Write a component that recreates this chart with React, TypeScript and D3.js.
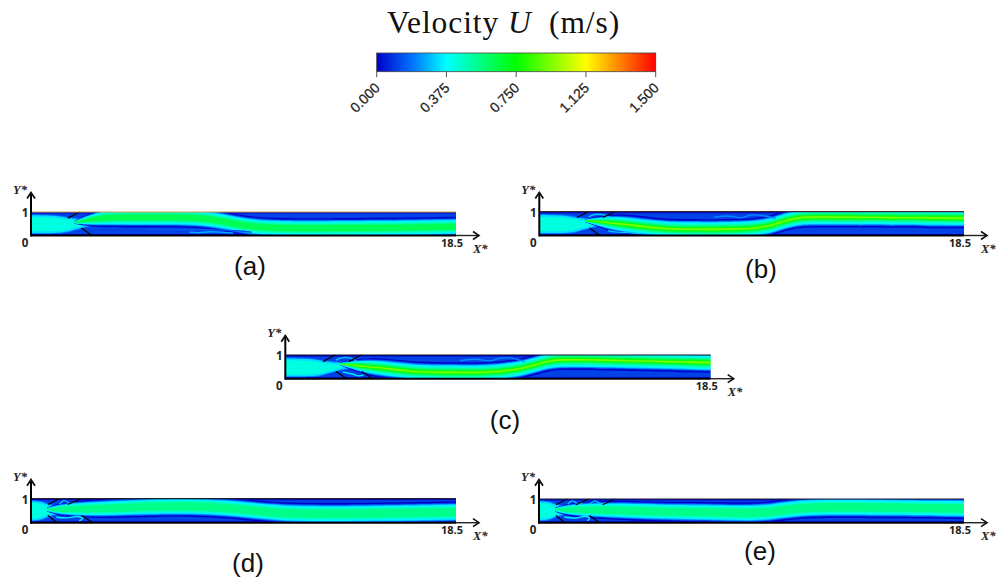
import React from "react";
import * as d3 from "d3";

// colour bar
const barTicks = [0, 0.375, 0.75, 1.125, 1.5];
const barTickLabels = ["0.000", "0.375", "0.750", "1.125", "1.500"];
const jetStops = [0, 0.1875, 0.375, 0.75, 1.125, 1.5];
const jetColors = ["#0000c8", "#0070ff", "#00ffff", "#00ff00", "#ffff00", "#ff0000"];

// velocity levels across the jet (velocity, half width in Y*)
const levelVelocity = [0.01, 0.09, 0.17, 0.27, 0.36, 0.46, 0.55, 0.63, 0.7, 0.8, 0.92];
const levelHalfWidth = [0.43, 0.37, 0.345, 0.32, 0.29, 0.225, 0.17, 0.13, 0.095, 0.065, 0.035];
// core velocity of each case
const coreA = 0.68, coreB = 0.95, coreC = 0.95, coreD = 0.56, coreE = 0.56;

// jet centre lines
const jetXa = [1.9, 2.4, 3, 4, 6, 7.5, 8.5, 9.5, 10.5, 12, 15, 18.5];
const jetYa = [0.56, 0.64, 0.74, 0.77, 0.77, 0.75, 0.58, 0.38, 0.32, 0.3, 0.32, 0.37];
const jetWa = [0.15, 0.55, 0.9, 1, 1, 1, 1, 1, 1.0, 1.0, 1.0, 1.0];

const jetXb = [2, 2.6, 3.2, 4, 5, 6, 9, 10, 10.5, 11.3, 12, 18.5];
const jetYb = [0.62, 0.58, 0.52, 0.44, 0.32, 0.25, 0.26, 0.38, 0.56, 0.76, 0.78, 0.73];
const jetWb = [0.15, 0.55, 0.9, 1, 1, 1, 1, 1, 1, 1, 1, 1];

const jetXc = [2.4, 3, 3.6, 4.5, 5.5, 6.5, 9.3, 10.6, 11.5, 12.2, 13, 18.5];
const jetYc = [0.62, 0.57, 0.5, 0.42, 0.3, 0.26, 0.25, 0.5, 0.78, 0.8, 0.8, 0.68];
const jetWc = [0.15, 0.55, 0.9, 1, 1, 1, 1, 1, 1, 1, 1, 1];

const jetXd = [0.7, 1.4, 3, 5.2, 7, 8.5, 9.5, 11, 13, 15, 18.5];
const jetYd = [0.55, 0.56, 0.58, 0.67, 0.69, 0.62, 0.53, 0.38, 0.37, 0.39, 0.44];
const jetWd = [0.2, 0.75, 0.95, 1, 1.02, 1.02, 1.02, 1.05, 1.05, 1.05, 1.05];

const jetXe = [0.7, 1.4, 3, 5.3, 7, 9.2, 10.2, 11.3, 13, 15, 18.5];
const jetYe = [0.55, 0.55, 0.54, 0.46, 0.45, 0.39, 0.46, 0.63, 0.66, 0.64, 0.6];
const jetWe = [0.2, 0.75, 0.95, 1, 1.02, 1.05, 1.05, 1.05, 1.05, 1.05, 1.05];

// inlet blocks
const inletXwide = [0, 1.2, 1.6, 2.2, 2.8, 3.2];
const inletTopWide = [0.9, 0.88, 0.78, 0.72, 0.68, 0.62];
const inletBotWide = [0.06, 0.06, 0.12, 0.3, 0.42, 0.5];
const inletXshort = [0, 0.45, 0.75, 1.15, 1.6];
const inletTopShort = [0.94, 0.92, 0.78, 0.72, 0.68];
const inletBotShort = [0.06, 0.08, 0.24, 0.34, 0.42];
const inletVelocity = [0.2, 0.33, 0.42];
const inletInset = [0, 0.04, 0.12];

// baffles [X1, Y1, X2, Y2]
const bafflesA = [[1.6, 0.74, 2.13, 1], [2.2, 0.32, 2.65, 0]];
const bafflesB = [[1.64, 0.76, 2.13, 1], [2.77, 0.76, 3.29, 1], [2.2, 0.3, 2.64, 0]];
const bafflesC = [[1.64, 0.72, 2.16, 1], [2.77, 0.72, 3.29, 1], [2.2, 0.3, 2.68, 0], [3.33, 0.3, 3.81, 0]];
const bafflesD = [[0.74, 0.76, 1.22, 1], [1.6, 0.76, 2.17, 1], [0.74, 0.3, 1.13, 0], [2.2, 0.3, 2.7, 0]];
const bafflesE = [[0.74, 0.76, 1.22, 1], [1.6, 0.76, 2.17, 1], [2.77, 0.76, 3.29, 1], [0.74, 0.3, 1.13, 0], [2.2, 0.3, 2.64, 0]];

// thin vortex streaks: X* list, Y* list, velocity
const wispsA = [
  { x: [6.9, 7.3, 7.8, 8.3, 8.8], y: [0.14, 0.12, 0.16, 0.14, 0.1], v: 0.26 },
  { x: [5, 6.5, 8, 9, 9.6], y: [0.26, 0.24, 0.24, 0.2, 0.14], v: 0.14 },
];
const wispsB = [
  { x: [7.6, 8.2, 8.8, 9.2, 9.7, 10.3], y: [0.76, 0.82, 0.75, 0.86, 0.84, 0.72], v: 0.22 },
  { x: [3, 3.4, 3.9, 4.4], y: [0.2, 0.14, 0.12, 0.08], v: 0.3 },
  { x: [2.15, 2.4, 2.75, 3.1], y: [0.78, 0.88, 0.88, 0.76], v: 0.3 },
];
const wispsC = [
  { x: [7.6, 8.3, 8.9, 9.4, 9.9, 10.4], y: [0.76, 0.82, 0.75, 0.88, 0.86, 0.72], v: 0.22 },
  { x: [2.5, 2.9, 3.2, 3.4], y: [0.28, 0.2, 0.12, 0.16], v: 0.36 },
  { x: [2.2, 2.45, 2.8, 3.1], y: [0.78, 0.88, 0.88, 0.74], v: 0.3 },
];
const wispsD = [
  { x: [1.25, 1.45, 1.7, 1.9], y: [0.78, 0.92, 0.8, 0.85], v: 0.3 },
  { x: [1.1, 1.6, 2, 2.25, 2.1], y: [0.24, 0.2, 0.26, 0.18, 0.08], v: 0.36 },
];
const wispsE = [
  { x: [1.25, 1.45, 1.7, 1.9], y: [0.78, 0.92, 0.8, 0.85], v: 0.3 },
  { x: [2.2, 2.45, 2.7, 2.95], y: [0.78, 0.92, 0.8, 0.85], v: 0.3 },
  { x: [1.1, 1.6, 2, 2.2, 2.1], y: [0.24, 0.2, 0.26, 0.18, 0.08], v: 0.36 },
];

const panelNames = ["a", "b", "c", "d", "e"];
const panelLabels = ["(a)", "(b)", "(c)", "(d)", "(e)"];
const maxX = 18.5;

const layout = [
  { x0: 31, x1: 456, top: 212, bottom: 235.5, lx: 250, ly: 275, edge: "#c9a63a" },
  { x0: 539.3, x1: 964, top: 211.7, bottom: 235.5, lx: 761, ly: 278, edge: "#3a2a2a" },
  { x0: 285.3, x1: 710.7, top: 355, bottom: 378.7, lx: 505, ly: 429, edge: "#101020" },
  { x0: 31, x1: 456, top: 498.7, bottom: 522.7, lx: 248, ly: 572, edge: "#202030" },
  { x0: 539, x1: 964, top: 499, bottom: 522.7, lx: 760, ly: 560, edge: "#202030" },
];

const panelData = [
  { X: jetXa, Y: jetYa, W: jetWa, core: coreA, iX: inletXwide, iT: inletTopWide, iB: inletBotWide, baffles: bafflesA, wisps: wispsA },
  { X: jetXb, Y: jetYb, W: jetWb, core: coreB, iX: inletXwide, iT: inletTopWide, iB: inletBotWide, baffles: bafflesB, wisps: wispsB },
  { X: jetXc, Y: jetYc, W: jetWc, core: coreC, iX: inletXwide, iT: inletTopWide, iB: inletBotWide, baffles: bafflesC, wisps: wispsC },
  { X: jetXd, Y: jetYd, W: jetWd, core: coreD, iX: inletXshort, iT: inletTopShort, iB: inletBotShort, baffles: bafflesD, wisps: wispsD },
  { X: jetXe, Y: jetYe, W: jetWe, core: coreE, iX: inletXshort, iT: inletTopShort, iB: inletBotShort, baffles: bafflesE, wisps: wispsE },
];

const jet = d3.scaleLinear<string>().domain(jetStops).range(jetColors).interpolate(d3.interpolateRgb);

function Panel({ i }: { i: number }) {
  const L = layout[i];
  const D = panelData[i];
  const x = d3.scaleLinear().domain([0, maxX]).range([L.x0, L.x1]);
  const y = d3.scaleLinear().domain([0, 1]).range([L.bottom, L.top]);
  const idx = D.X.map((_, k) => k);
  const curve = d3.curveBasis;
  const band = (hw: number) =>
    d3.area<number>().curve(curve).x((k) => x(D.X[k])).y0((k) => y(D.Y[k] - hw * D.W[k])).y1((k) => y(D.Y[k] + hw * D.W[k]))(idx) as string;
  const inletIdx = D.iX.map((_, k) => k);
  const inlet = (inset: number) =>
    d3.area<number>().curve(curve).x((k) => x(D.iX[k])).y0((k) => y(D.iB[k] + inset)).y1((k) => y(D.iT[k] - inset))(inletIdx) as string;
  const wisp = (w: { x: number[]; y: number[] }) =>
    d3.line<number>().curve(d3.curveCatmullRom).x((k) => x(w.x[k])).y((k) => y(w.y[k]))(w.x.map((_, k) => k)) as string;
  const ax0 = x(0);
  const ay0 = y(0);
  const tipX = L.x1 + 23;
  const tipY = ay0 - 43;
  return (
    <g>
      <clipPath id={`clip-${panelNames[i]}`}>
        <rect x={x(0)} y={y(1)} width={x(maxX) - x(0)} height={y(0) - y(1)} />
      </clipPath>
      <g clipPath={`url(#clip-${panelNames[i]})`}>
        <g filter="url(#soft)">
          <rect x={x(0) - 3} y={y(1) - 3} width={x(maxX) - x(0) + 6} height={y(0) - y(1) + 6} fill={jet(0.11)} />
          <rect x={x(0) - 3} y={y(1) - 3} width={x(maxX) - x(0) + 6} height={4.5} fill={jet(0)} />
          <rect x={x(0) - 3} y={y(0) - 1.5} width={x(maxX) - x(0) + 6} height={4.5} fill={jet(0)} />
          {inletVelocity.map((v, k) => (
            <path key={k} d={inlet(inletInset[k])} fill={jet(v)} />
          ))}
          {levelHalfWidth.map((hw, k) =>
            levelVelocity[k] <= D.core ? <path key={k} d={band(hw)} fill={jet(levelVelocity[k])} /> : null
          )}
          {D.wisps.map((w, k) => (
            <path key={k} d={wisp(w)} fill="none" stroke={jet(w.v)} strokeWidth={1.4} />
          ))}
        </g>
      </g>
      {D.baffles.map((b, k) => (
        <line key={k} x1={x(b[0])} y1={y(b[1])} x2={x(b[2])} y2={y(b[3])} stroke="#000" strokeWidth={1.2} />
      ))}
      <line x1={x(0)} x2={x(maxX)} y1={y(1)} y2={y(1)} stroke={L.edge} strokeWidth={1.2} />
      <line x1={ax0} x2={x(maxX)} y1={ay0} y2={ay0} stroke="#000" strokeWidth={2} />
      <line x1={x(maxX)} x2={tipX} y1={ay0} y2={ay0} stroke="#222" strokeWidth={1.4} />
      <path d={`M${tipX - 6},${ay0 - 4}L${tipX},${ay0}L${tipX - 6},${ay0 + 4}`} fill="none" stroke="#111" strokeWidth={1.6} />
      <line x1={ax0} x2={ax0} y1={ay0 + 1} y2={tipY} stroke="#000" strokeWidth={2} />
      <path d={`M${ax0 - 4},${tipY + 6}L${ax0},${tipY}L${ax0 + 4},${tipY + 6}`} fill="none" stroke="#111" strokeWidth={1.8} />
      <text x={ax0 - 18} y={ay0 - 41.5} fontFamily="Liberation Serif" fontStyle="italic" fontWeight="bold" fontSize={12.5} fill="#222">Y*</text>
      <text x={ax0 - 6} y={y(1) + 5} textAnchor="middle" fontFamily="Open Sans" fontWeight="bold" fontSize={11.5} fill="#222">1</text>
      <text x={ax0 - 6} y={ay0 + 11.5} textAnchor="middle" fontFamily="Open Sans" fontWeight="bold" fontSize={11.5} fill="#222">0</text>
      <text x={x(maxX) - 4} y={ay0 + 11.5} textAnchor="middle" fontFamily="Open Sans" fontWeight="bold" fontSize={11} fill="#222">{maxX}</text>
      <text x={x(maxX) + 17} y={ay0 + 17.5} fontFamily="Liberation Serif" fontStyle="italic" fontWeight="bold" fontSize={12.5} fill="#222">X*</text>
      <text x={L.lx} y={L.ly} textAnchor="middle" fontFamily="Liberation Sans" fontSize={26} fill="#111">{panelLabels[i]}</text>
    </g>
  );
}

export default function App() {
  const bar = d3.scaleLinear().domain([0, 1.5]).range([376.7, 655.7]);
  const barTop = 53;
  const barBottom = 71.7;
  return (
    <svg width={997} height={577} style={{ position: "absolute", left: 0, top: 0, background: "#fff" }}>
      <defs>
        <linearGradient id="jetbar" x1="0" x2="1" y1="0" y2="0">
          {jetStops.map((s, k) => (
            <stop key={k} offset={s / 1.5} stopColor={jetColors[k]} />
          ))}
        </linearGradient>
        <filter id="soft" x="-2%" y="-20%" width="104%" height="140%">
          <feGaussianBlur stdDeviation={0.75} />
        </filter>
      </defs>
      <text x={503.5} y={33} textAnchor="middle" fontFamily="Liberation Serif" fontSize={31.5} fill="#111" letterSpacing={0.9} xmlSpace="preserve">
        Velocity <tspan fontStyle="italic">U</tspan>  (m/s)
      </text>
      <rect x={bar(0)} y={barTop} width={bar(1.5) - bar(0)} height={barBottom - barTop} fill="url(#jetbar)" stroke="#444" strokeWidth={0.8} />
      {barTicks.map((t, k) => (
        <g key={k} transform={`translate(${bar(t)},${barBottom})`}>
          <line y1={0} y2={5.5} stroke="#555" strokeWidth={1} />
          <text transform="translate(4,17) rotate(-45)" textAnchor="end" fontFamily="Liberation Sans" fontSize={14} stroke="#222" strokeWidth={0.25} fill="#222">
            {barTickLabels[k]}
          </text>
        </g>
      ))}
      {panelNames.map((_, i) => (
        <Panel key={i} i={i} />
      ))}
    </svg>
  );
}
